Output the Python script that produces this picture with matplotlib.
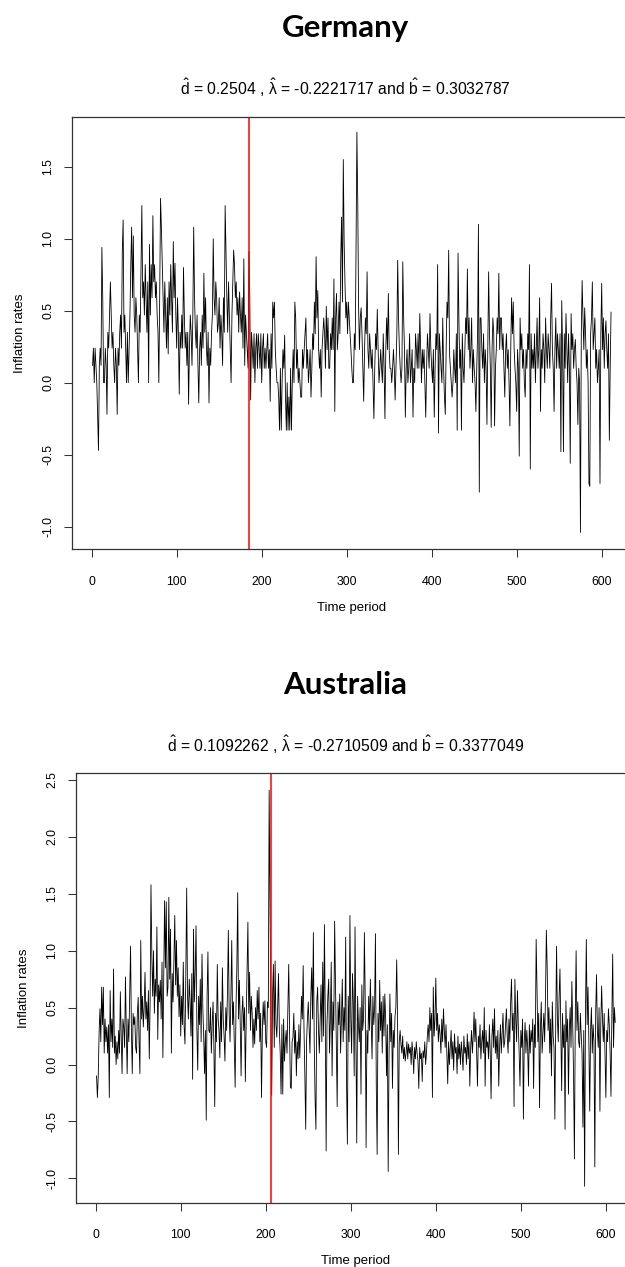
import numpy as np
import matplotlib
matplotlib.use("Agg")
import matplotlib.pyplot as plt

# Monthly inflation rates (t = 1..611)
germany = [
    0.12, 0.24, 0.00, 0.24, 0.12, 0.00, -0.24, -0.47, 0.12, 0.24,
    0.12, 0.94, 0.59, 0.00, 0.00, 0.24, 0.12, -0.22, 0.35, 0.24,
    0.47, 0.70, 0.47, 0.24, 0.35, 0.12, 0.00, 0.24, 0.12, -0.22,
    0.24, 0.12, 0.35, 0.47, 0.24, 0.91, 1.13, 0.35, 0.47, 0.24,
    0.00, 0.35, 0.00, 0.24, 0.47, 0.82, 1.08, 0.59, 1.02, 0.47,
    0.35, 0.59, 0.47, 0.24, 0.00, 0.47, 0.35, 0.82, 1.23, 0.59,
    0.70, 0.47, 0.82, 0.59, 0.35, 0.70, 0.00, 0.96, 0.47, 0.82,
    0.59, 1.16, 0.70, 0.82, 0.59, 0.70, 0.47, 0.35, 0.00, 0.59,
    1.28, 1.08, 0.82, 0.59, 0.35, 0.70, 0.47, 0.24, 0.59, 0.20,
    0.70, 0.47, 0.82, 0.59, 0.35, 0.98, 0.59, 0.83, 0.47, 0.24,
    0.59, 0.35, -0.08, 0.35, 0.24, 0.47, 0.24, 0.80, 0.47, 0.24,
    0.35, 0.12, 0.35, -0.15, 0.24, 0.47, 0.35, 0.12, 0.47, 1.08,
    0.59, 0.35, 0.24, 0.47, 0.12, -0.14, 0.24, 0.35, 0.12, 0.47,
    0.24, 0.76, 0.35, 0.59, 0.24, 0.12, 0.35, -0.14, 0.24, 0.12,
    0.35, 0.47, 1.00, 0.59, 0.47, 0.70, 0.59, 0.35, 0.41, 0.59,
    0.24, 0.47, 0.35, 0.12, 0.59, 0.35, 1.23, 0.90, 0.59, 0.35,
    0.70, 0.47, 0.24, 0.00, 0.47, 0.70, 0.92, 0.82, 0.59, 0.70,
    0.47, 0.59, 0.35, 0.63, 0.47, 0.35, 0.59, 0.24, 0.86, 0.12,
    0.47, 0.35, 0.24, 0.10, 0.91, 0.59, -0.12, 0.35, 0.24, 0.10,
    0.34, 0.00, 0.24, 0.34, 0.10, 0.34, 0.24, 0.10, 0.34, 0.00,
    0.24, 0.34, 0.10, 0.24, 0.10, 0.23, 0.34, 0.10, 0.23, -0.13,
    0.34, 0.10, 0.56, 0.45, 0.56, 0.23, 0.10, 0.00, 0.00, -0.10,
    -0.33, 0.10, -0.33, 0.00, 0.23, 0.10, 0.33, -0.10, -0.33, 0.00,
    -0.33, -0.10, -0.33, 0.10, -0.33, 0.00, 0.23, 0.00, 0.56, 0.45,
    0.10, 0.23, 0.00, 0.10, 0.00, -0.10, -0.10, 0.23, 0.10, 0.23,
    0.34, 0.45, 0.10, 0.23, 0.00, 0.10, 0.23, -0.10, 0.10, 0.34,
    0.23, 0.56, 0.34, 0.875, 0.45, 0.64, 0.23, 0.10, 0.23, -0.10,
    0.23, 0.34, 0.45, 0.34, 0.10, 0.53, 0.23, 0.45, 0.10, 0.10,
    0.34, 0.23, 0.45, 0.23, 0.72, -0.20, 0.45, 0.62, 0.23, 0.34,
    0.56, 0.34, 0.87, 1.15, 0.56, 1.55, 0.98, 0.69, 0.45, 0.56,
    0.34, 0.56, 0.45, 0.34, 0.23, 0.10, 0.00, 0.00, 0.34, 0.23,
    0.93, 1.74, 1.26, 0.53, 0.23, 0.45, 0.52, 0.34, 0.10, -0.13,
    0.23, 0.45, 0.34, 0.77, 0.23, 0.10, 0.34, 0.23, 0.10, 0.23,
    0.00, -0.25, 0.10, 0.34, 0.23, 0.51, 0.23, 0.00, 0.10, 0.23,
    0.10, 0.00, 0.34, 0.10, -0.25, 0.23, 0.45, 0.23, 0.62, 0.23,
    0.10, 0.10, 0.00, 0.10, 0.23, 0.10, -0.12, 0.10, 0.34, 0.85,
    0.45, 0.23, 0.10, 0.00, 0.10, 0.84, 0.45, 0.23, -0.24, 0.10,
    0.23, 0.00, 0.10, 0.34, 0.00, 0.10, 0.23, -0.24, 0.10, 0.00,
    0.34, 0.23, 0.10, 0.34, 0.10, 0.48, 0.23, 0.00, 0.23, 0.10,
    0.23, 0.00, -0.24, 0.10, 0.34, 0.23, 0.10, 0.48, 0.23, 0.10,
    0.00, 0.23, -0.24, 0.10, 0.34, 0.23, 0.82, -0.35, 0.34, 0.23,
    0.10, 0.00, 0.45, 0.10, -0.10, -0.22, 0.23, 0.56, 0.45, 0.92,
    0.20, 0.10, 0.00, -0.10, 0.00, 0.23, 0.10, 0.00, 0.34, -0.33,
    0.90, 0.45, 0.10, 0.23, -0.33, 0.34, 0.10, 0.00, 0.23, 0.45,
    0.34, 0.79, 0.23, 0.45, 0.10, 0.23, 0.45, 0.00, 0.23, 0.10,
    0.00, -0.20, 0.10, 0.34, 1.10, -0.76, 0.45, 0.45, 0.23, 0.10,
    0.34, 0.00, 0.23, 0.10, -0.29, 0.23, 0.77, 0.34, 0.10, -0.31,
    0.23, 0.45, 0.34, -0.30, 0.10, 0.23, 0.45, 0.34, 0.76, 0.23,
    0.45, 0.45, 0.23, 0.34, 0.10, -0.10, 0.23, 0.34, 0.10, 0.23,
    0.00, -0.30, 0.23, 0.59, 0.34, 0.56, 0.23, 0.10, 0.00, -0.20,
    0.23, 0.10, -0.51, 0.45, 0.23, 0.34, 0.10, 0.23, 0.00, -0.10,
    0.23, 0.10, 0.34, 0.23, 0.82, -0.60, 0.34, 0.10, 0.23, 0.10,
    0.34, 0.00, 0.23, 0.45, 0.10, 0.23, 0.59, -0.20, 0.23, 0.10,
    0.34, 0.23, 0.00, 0.45, 0.23, 0.10, 0.34, 0.23, 0.10, 0.45,
    0.69, 0.23, 0.10, -0.20, 0.23, 0.45, 0.10, 0.34, 0.23, 0.10,
    0.34, -0.48, 0.57, 0.23, -0.48, 0.34, 0.10, 0.48, 0.23, 0.00,
    0.34, 0.10, -0.56, 0.48, 0.23, 0.34, 0.10, 0.23, 0.30, 0.10,
    0.00, -0.29, 0.10, 0.00, -1.04, 0.34, 0.71, 0.45, 0.23, 0.52,
    0.34, 0.10, 0.23, 0.00, -0.70, -0.72, 0.34, 0.45, 0.70, 0.23,
    0.34, 0.45, 0.10, 0.23, 0.00, 0.10, 0.23, -0.70, 0.34, 0.69,
    0.23, 0.45, 0.10, 0.34, 0.43, 0.23, 0.10, 0.34, -0.40, 0.10, 0.49,
]

australia = [
    -0.10, -0.29, -0.10, 0.28, 0.49, 0.20, 0.68, 0.35, 0.68, 0.10,
    0.40, 0.20, 0.33, 0.10, 0.35, -0.29, 0.65, 0.20, 0.40, 0.15,
    0.84, 0.10, 0.25, 0.00, 0.20, 0.05, 0.30, 0.10, 0.64, 0.25,
    -0.08, 0.40, 0.33, 0.15, 0.77, 0.30, -0.08, 0.40, 0.20, 0.60,
    1.04, 0.30, -0.08, 0.45, 0.35, 0.42, 0.15, 0.10, 0.45, 0.59,
    0.20, -0.08, 1.09, 0.40, 0.60, 0.33, 0.50, 0.81, 0.40, 0.55,
    0.30, 0.65, 0.05, 0.55, 1.58, 0.97, 0.60, 1.00, 0.45, 0.75,
    0.60, 1.21, 0.22, 0.70, 0.55, 0.74, 0.40, 0.90, 0.06, 0.75,
    1.44, 0.85, 1.43, 0.60, 0.68, 1.47, 0.75, 1.19, 0.10, 0.80,
    0.55, 0.95, 1.31, 0.70, 1.09, 0.60, 0.85, 0.42, 0.70, 0.25,
    0.60, 0.35, 0.90, 0.33, 0.18, 0.80, 1.55, 0.60, 0.40, 0.75,
    0.56, 0.25, 0.80, -0.13, 1.19, 0.55, 0.80, 1.22, 0.30, -0.05,
    0.60, 0.35, 0.75, 0.20, 0.97, 0.50, 0.25, -0.08, 0.30, -0.49,
    0.60, 0.99, 0.30, 0.28, 0.50, 0.10, 0.35, 0.55, 0.15, -0.37,
    0.45, 0.20, 0.88, 0.40, 0.30, 0.06, 0.55, 0.20, 0.85, 0.40,
    0.25, 0.03, 0.50, 0.30, 0.65, 1.18, 0.44, 0.20, 0.60, 1.09,
    0.35, 0.55, 0.15, -0.20, 0.50, 0.85, 1.51, 0.40, 0.74, 0.35,
    -0.10, 0.45, 0.60, 0.30, 0.50, -0.15, 0.40, 0.85, 1.25, 0.45,
    0.81, 0.30, 0.60, 0.45, 0.15, 0.40, 0.18, 0.50, 0.30, 0.65,
    0.40, 0.68, 0.20, 0.45, -0.29, 0.30, 0.55, 0.35, 0.56, 0.20,
    0.15, 0.55, 0.50, 2.41, 1.44, 0.42, -0.27, 0.60, 0.88, 0.15,
    0.91, 0.35, 0.24, 0.50, 0.80, 0.30, 0.10, -0.26, 0.35, -0.26,
    0.40, 0.03, 0.20, 0.30, 0.10, 0.50, 0.88, 0.30, -0.20, -0.21,
    0.20, 0.24, 0.45, 0.10, 0.30, -0.10, 0.20, 0.05, 0.35, 0.06,
    0.30, 0.60, 0.40, 0.87, 0.30, -0.10, -0.57, 0.20, 0.40, 0.55,
    0.33, 0.10, 0.60, 0.85, 0.40, 1.16, 0.20, -0.30, -0.57, 0.55,
    0.68, 0.30, 0.10, 0.40, 0.70, 0.20, 0.90, 0.25, 1.23, 0.40,
    -0.76, 0.35, 0.60, 0.75, 0.10, 0.40, 0.90, -0.10, 0.55, 0.30,
    1.26, 0.70, 0.20, -0.37, 0.55, 0.35, 0.62, 0.10, 0.40, 0.75,
    0.20, 0.50, 0.30, 1.12, -0.15, -0.70, 0.60, 0.20, 1.31, 0.40,
    0.10, 0.80, 0.55, -0.10, 1.21, 0.30, -0.69, 0.60, 0.35, 0.20,
    0.50, -0.26, 0.70, 0.30, 0.40, 1.16, 0.55, -0.73, 0.30, 0.10,
    0.60, 0.30, 0.75, 0.40, 0.05, 0.60, 0.35, 0.50, 1.15, -0.20,
    -0.79, 0.45, 0.20, 0.74, 0.30, 0.55, 0.10, 0.60, 0.25, 0.62,
    0.40, -0.10, 0.35, -0.94, 0.10, 0.62, 0.20, 0.45, -0.21, 0.30,
    0.15, 0.42, 0.50, 0.92, 0.40, -0.79, 0.20, 0.30, 0.18, 0.10,
    0.25, 0.05, 0.15, 0.03, 0.10, 0.20, 0.05, 0.18, 0.10, 0.15,
    0.00, 0.20, 0.10, -0.08, 0.15, 0.05, 0.20, 0.10, 0.03, -0.21,
    0.15, 0.05, 0.10, -0.15, 0.12, 0.06, 0.20, 0.00, 0.10, 0.25,
    0.35, 0.20, 0.50, 0.30, 0.45, -0.29, 0.68, 0.25, 0.40, 0.76,
    0.30, 0.45, 0.20, 0.35, 0.27, 0.10, 0.40, 0.20, 0.49, 0.30,
    0.15, 0.35, 0.10, -0.17, 0.20, 0.00, 0.15, 0.30, 0.05, 0.20,
    -0.05, 0.27, 0.10, 0.15, -0.08, 0.25, 0.05, 0.18, 0.00, 0.20,
    0.10, -0.05, 0.25, 0.10, 0.15, 0.00, 0.27, 0.05, 0.20, -0.19,
    0.15, 0.30, 0.10, 0.25, 0.46, 0.20, 0.40, 0.10, -0.19, 0.25,
    0.15, 0.35, 0.05, 0.20, 0.30, 0.10, 0.50, -0.19, 0.30, 0.15,
    0.20, 0.05, 0.35, 0.10, -0.30, 0.25, 0.40, 0.15, 0.49, 0.10,
    0.25, 0.05, 0.30, -0.19, 0.15, 0.35, 0.10, 0.28, 0.45, 0.15,
    0.20, 0.35, 0.49, 0.25, 0.10, 0.40, 0.20, 0.55, 0.75, 0.30,
    0.45, -0.37, 0.75, 0.40, 0.20, 0.65, 0.35, 0.10, -0.19, 0.30,
    0.15, 0.40, -0.48, 0.20, 0.37, 0.10, 0.30, 0.15, -0.19, 0.35,
    0.10, 0.30, 0.20, 0.40, -0.21, 0.35, 0.15, 1.10, 0.68, 0.20,
    0.45, -0.38, 0.30, 0.55, 0.10, 0.27, 0.45, 0.20, 0.60, 1.18,
    0.84, 0.30, 0.50, 0.10, 0.40, -0.10, 0.55, 0.25, 0.15, -0.48,
    0.35, 1.04, 0.40, 0.20, 0.60, 0.84, 0.30, -0.23, 0.45, 0.15,
    0.35, -0.57, 0.56, 0.20, 0.40, -0.26, 0.30, 0.50, 0.15, 0.73,
    0.35, -0.10, -0.83, 0.40, 1.00, 0.30, 0.55, 0.20, 0.15, 0.45,
    0.25, 0.10, -0.55, 0.30, -1.07, 0.45, 1.10, 0.35, 0.68, 0.20,
    -0.41, 0.30, 0.50, 0.10, 0.35, 0.20, -0.90, 0.45, 0.79, 0.30,
    0.15, 0.50, -0.41, 0.35, 0.69, 0.40, 0.20, 0.45, 0.10, -0.29,
    0.30, 0.20, 0.49, 0.35, 0.10, -0.28, 0.40, 0.97, 0.15, 0.50, 0.37,
]

titles = ["Germany", "Australia"]
subtitles = [
    r"$\hat{\mathrm{d}}$ = 0.2504 , $\hat{\mathrm{\lambda}}$ = -0.2221717 and $\hat{\mathrm{b}}$ = 0.3032787",
    r"$\hat{\mathrm{d}}$ = 0.1092262 , $\hat{\mathrm{\lambda}}$ = -0.2710509 and $\hat{\mathrm{b}}$ = 0.3377049",
]
breaks = [185, 206]
xticks = [0, 100, 200, 300, 400, 500, 600]
yticks = [
    [-1.0, -0.5, 0.0, 0.5, 1.0, 1.5],
    [-1.0, -0.5, 0.0, 0.5, 1.0, 1.5, 2.0, 2.5],
]

plt.rcParams["font.family"] = ["Liberation Sans", "DejaVu Sans"]
plt.rcParams["axes.unicode_minus"] = False
plt.rcParams["mathtext.fontset"] = "custom"
plt.rcParams["mathtext.rm"] = "Liberation Sans"
plt.rcParams["mathtext.it"] = "Liberation Sans:italic"
plt.rcParams["mathtext.bf"] = "Liberation Sans:bold"

W, H = 625, 1267
fig = plt.figure(figsize=(W / 100, H / 100), dpi=100)

# axes boxes in pixels: left, top, bottom, pixels per time unit
boxes = [(71.8, 117.3, 549.3, 0.85), (75.8, 773.3, 1202.7, 0.8503)]
ylims = [(-1.157, 1.843), (-1.214, 2.559)]
title_y = [28, 685]
sub_y = [88, 745]

for k, series in enumerate([germany, australia]):
    y = np.array(series)
    t = np.arange(1, len(y) + 1)
    n = len(y)
    x0, x1 = 1 - 0.04 * (n - 1), n + 0.04 * (n - 1)
    left, top, bottom, ppu = boxes[k]
    width = (x1 - x0) * ppu
    ax = fig.add_axes([left / W, 1 - bottom / H, width / W, (bottom - top) / H])
    ax.plot(t, y, color="black", lw=0.6)
    ax.axvline(breaks[k], color="#ff0000", lw=1.1)
    ax.set_xlim(x0, x1)
    ax.set_ylim(*ylims[k])
    ax.set_xticks(xticks)
    ax.set_yticks(yticks[k])
    ax.set_yticklabels([f"{v:.1f}" for v in yticks[k]])
    ax.tick_params(axis="both", direction="out", length=5.5, width=0.75,
                   labelsize=8.8, color="#333333")
    ax.tick_params(axis="x", pad=13.5)
    ax.tick_params(axis="y", pad=7, labelrotation=90)
    for lab in ax.get_yticklabels():
        lab.set_verticalalignment("center")
    for s in ax.spines.values():
        s.set_linewidth(0.9)
        s.set_color("#333333")
    ax.set_xlabel("Time period", fontsize=9.5, labelpad=10)
    ax.set_ylabel("Inflation rates", fontsize=9.5, labelpad=12)

    cx = 0.553
    fig.text(cx, 1 - title_y[k] / H, titles[k], ha="center", va="center",
             fontsize=22.5, fontweight="bold", family=["Lato", "DejaVu Sans"])
    fig.text(cx, 1 - sub_y[k] / H, subtitles[k], ha="center", va="center",
             fontsize=11.3)

fig.savefig("out.png", dpi=100)
